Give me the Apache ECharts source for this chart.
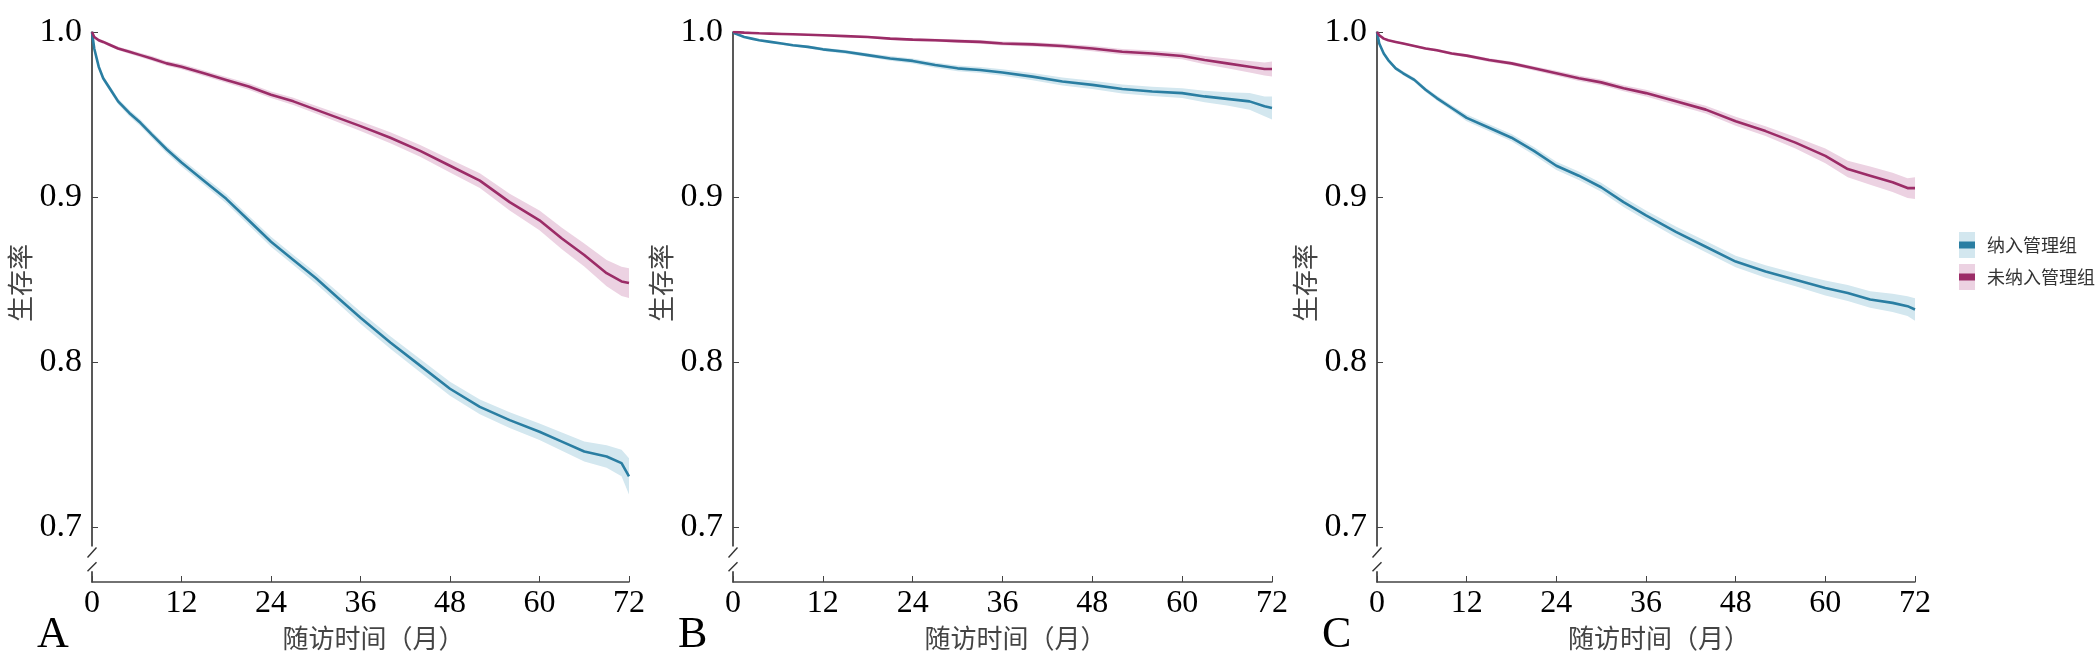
<!DOCTYPE html>
<html>
<head>
<meta charset="utf-8">
<script src="https://cdn.jsdelivr.net/npm/echarts@6/dist/echarts.min.js"></script>
<style>
  html, body { margin: 0; padding: 0; background: #fff; }
  #main { width: 2100px; height: 661px; }
</style>
</head>
<body>
<div id="main"></div>
<script>
// 随访月份（三个图共用）
var months = [0, 0.3, 0.9, 1.5, 2.5, 3.5, 5, 6.5, 8, 10, 12, 15, 18, 21, 24, 27, 30, 33, 36, 40, 44, 48, 52, 56, 60, 63, 66, 69, 71, 72];

// 图A
var aInc = [1.000, 0.990, 0.979, 0.972, 0.965, 0.958, 0.951, 0.945, 0.938, 0.929, 0.921, 0.910, 0.899, 0.886, 0.873, 0.862, 0.851, 0.839, 0.827, 0.812, 0.798, 0.784, 0.773, 0.765, 0.758, 0.752, 0.746, 0.743, 0.739, 0.731];
var aIncCi = [0, 0.001, 0.0015, 0.0015, 0.0017, 0.0018, 0.002, 0.002, 0.002, 0.0022, 0.0024, 0.0025, 0.0027, 0.0028, 0.003, 0.003, 0.0032, 0.0034, 0.0036, 0.0038, 0.004, 0.0042, 0.0045, 0.0048, 0.005, 0.0055, 0.006, 0.0068, 0.008, 0.011];
var aNot = [1.000, 0.997, 0.995, 0.994, 0.992, 0.990, 0.988, 0.986, 0.984, 0.981, 0.979, 0.975, 0.971, 0.967, 0.962, 0.958, 0.953, 0.948, 0.943, 0.936, 0.928, 0.919, 0.910, 0.897, 0.886, 0.875, 0.865, 0.854, 0.849, 0.848];
var aNotCi = [0, 0.0008, 0.001, 0.001, 0.001, 0.0011, 0.0012, 0.0013, 0.0014, 0.0015, 0.0016, 0.0017, 0.0018, 0.0019, 0.002, 0.0022, 0.0024, 0.0027, 0.003, 0.0033, 0.0036, 0.004, 0.0045, 0.005, 0.006, 0.0065, 0.007, 0.008, 0.0088, 0.009];

// 图B
var bInc = [1.000, 0.999, 0.998, 0.997, 0.996, 0.995, 0.994, 0.993, 0.992, 0.991, 0.9895, 0.988, 0.986, 0.984, 0.9825, 0.980, 0.978, 0.977, 0.9755, 0.973, 0.970, 0.968, 0.9655, 0.964, 0.963, 0.961, 0.9595, 0.958, 0.955, 0.954];
var bIncCi = [0, 0.0003, 0.0004, 0.0005, 0.0005, 0.0006, 0.0006, 0.0007, 0.0008, 0.0009, 0.001, 0.0011, 0.0012, 0.0014, 0.0015, 0.0016, 0.0017, 0.0018, 0.002, 0.0022, 0.0024, 0.0025, 0.0027, 0.0028, 0.003, 0.0035, 0.004, 0.005, 0.006, 0.007];
var bNot = [1.000, 1.000, 0.9998, 0.9996, 0.9994, 0.9992, 0.999, 0.9988, 0.9986, 0.9983, 0.998, 0.9975, 0.997, 0.996, 0.9954, 0.995, 0.9945, 0.994, 0.993, 0.9925, 0.9915, 0.990, 0.988, 0.987, 0.9855, 0.983, 0.981, 0.979, 0.9776, 0.9776];
var bNotCi = [0, 0.0002, 0.0003, 0.0003, 0.0003, 0.0004, 0.0004, 0.0004, 0.0005, 0.0005, 0.0006, 0.0006, 0.0007, 0.0007, 0.0008, 0.0009, 0.001, 0.0011, 0.0012, 0.0013, 0.0014, 0.0016, 0.0017, 0.0018, 0.002, 0.0025, 0.003, 0.0035, 0.004, 0.0045];

// 图C
var cInc = [1.000, 0.993, 0.987, 0.983, 0.978, 0.975, 0.971, 0.965, 0.960, 0.954, 0.948, 0.942, 0.936, 0.928, 0.919, 0.913, 0.906, 0.897, 0.889, 0.879, 0.870, 0.861, 0.855, 0.850, 0.845, 0.842, 0.838, 0.836, 0.834, 0.832];
var cIncCi = [0, 0.0008, 0.001, 0.001, 0.0011, 0.0012, 0.0013, 0.0014, 0.0015, 0.0017, 0.002, 0.0021, 0.0022, 0.0024, 0.0025, 0.0026, 0.0027, 0.0029, 0.003, 0.0032, 0.0034, 0.0035, 0.0038, 0.004, 0.0045, 0.0048, 0.005, 0.0055, 0.006, 0.0068];
var cNot = [1.000, 0.998, 0.996, 0.995, 0.994, 0.993, 0.9915, 0.990, 0.989, 0.987, 0.9857, 0.983, 0.981, 0.978, 0.975, 0.972, 0.9695, 0.966, 0.963, 0.958, 0.953, 0.946, 0.940, 0.933, 0.925, 0.917, 0.913, 0.909, 0.9055, 0.9055];
var cNotCi = [0, 0.0004, 0.0005, 0.0005, 0.0005, 0.0006, 0.0006, 0.0007, 0.0008, 0.0009, 0.001, 0.0011, 0.0012, 0.0013, 0.0015, 0.0016, 0.0017, 0.0018, 0.002, 0.0022, 0.0024, 0.0027, 0.003, 0.0035, 0.0045, 0.005, 0.0055, 0.0058, 0.006, 0.0066];

// 坐标轴刻度
var xTicks = [0, 12, 24, 36, 48, 60, 72];
var yTicks = [0.7, 0.8, 0.9, 1.0];
var yMin = 0.667, yMax = 1.0;
var breakTop = 0.6885, breakBottom = 0.6735;   // 纵轴截断处

var nameInc = '纳入管理组', nameNot = '未纳入管理组';
var panelLetters = ['A', 'B', 'C'];

var colorInc = '#2a7ea2', colorNot = '#9b2c67';
var bandInc = '#d3e7ef', bandNot = '#ecd2e2';

var panels = [
  { inc: aInc, incCi: aIncCi, not: aNot, notCi: aNotCi },
  { inc: bInc, incCi: bIncCi, not: bNot, notCi: bNotCi },
  { inc: cInc, incCi: cIncCi, not: cNot, notCi: cNotCi }
];

var gridLefts = [92, 733, 1377];
var gridWidths = [537, 539, 538];
var gridTop = 32, gridHeight = 550;

var numFont = '"Liberation Serif", "Times New Roman", serif';
var cjkFont = '"Noto Sans CJK SC", sans-serif';

var myChart = echarts.init(document.getElementById('main'));

var grids = [], xAxes = [], yAxes = [], series = [];

// 置信区间带：用 custom 系列画成一个多边形
function bandSeries(i, name, vals, ci, color) {
  var rows = months.map(function (m, k) { return [m, vals[k] - ci[k], vals[k] + ci[k]]; });
  return {
    name: name, type: 'custom', xAxisIndex: i, yAxisIndex: i,
    data: rows, encode: { x: 0, y: [1, 2] },
    itemStyle: { color: color }, silent: true, z: 1,
    renderItem: function (params, api) {
      if (params.dataIndex !== 0) return;
      var pts = [];
      rows.forEach(function (r) { pts.push(api.coord([r[0], r[2]])); });
      for (var k = rows.length - 1; k >= 0; k--) pts.push(api.coord([rows[k][0], rows[k][1]]));
      return { type: 'polygon', shape: { points: pts }, style: { fill: color } };
    }
  };
}

panels.forEach(function (p, i) {
  grids.push({ left: gridLefts[i], top: gridTop, width: gridWidths[i], height: gridHeight, containLabel: false, outerBoundsMode: 'none' });

  xAxes.push({
    type: 'value', gridIndex: i, min: 0, max: 72, interval: 12,
    name: '随访时间（月）', nameLocation: 'middle', nameGap: 40,
    nameTextStyle: { fontFamily: cjkFont, fontSize: 26, color: '#444', padding: [0, 0, 0, 26] },
    axisLine: { show: true, lineStyle: { color: '#444', width: 1.5 } },
    axisTick: { show: true, inside: true, length: 6, lineStyle: { color: '#444' } },
    axisLabel: { fontFamily: numFont, fontSize: 32, color: '#000', margin: 6, customValues: xTicks },
    splitLine: { show: false }
  });

  yAxes.push({
    type: 'value', gridIndex: i, min: yMin, max: yMax,
    axisLine: { show: true, lineStyle: { color: '#222', width: 1.5 } },
    axisTick: { show: true, inside: true, length: 6, customValues: yTicks, lineStyle: { color: '#444' } },
    axisLabel: {
      fontFamily: numFont, fontSize: 34, color: '#000', margin: 10, customValues: yTicks,
      formatter: function (v) { return v.toFixed(1); }
    },
    splitLine: { show: false }
  });

  series.push(bandSeries(i, nameInc + ' 95%CI', p.inc, p.incCi, bandInc));
  series.push(bandSeries(i, nameNot + ' 95%CI', p.not, p.notCi, bandNot));

  [[p.inc, nameInc, colorInc], [p.not, nameNot, colorNot]].forEach(function (g) {
    series.push({
      name: g[1], type: 'line', xAxisIndex: i, yAxisIndex: i,
      data: months.map(function (m, k) { return [m, g[0][k]]; }),
      symbol: 'none', itemStyle: { color: g[2] }, lineStyle: { color: g[2], width: 2.6 }, z: 3
    });
  });
});

var option = {
  animation: false,
  backgroundColor: '#fff',
  grid: grids,
  xAxis: xAxes,
  yAxis: yAxes,
  legend: [
    {
      // 图例底色（置信区间颜色）
      left: 1954, top: 227, orient: 'vertical', icon: 'rect',
      itemWidth: 16, itemHeight: 26, itemGap: 6, selectedMode: false, z: 1,
      textStyle: { fontFamily: cjkFont, fontSize: 18, lineHeight: 26, color: 'rgba(0,0,0,0)', padding: [0, 0, 0, 7] },
      formatter: function (n) { return n.replace(' 95%CI', ''); },
      data: [
        { name: nameInc + ' 95%CI', itemStyle: { color: bandInc } },
        { name: nameNot + ' 95%CI', itemStyle: { color: bandNot } }
      ]
    },
    {
      left: 1954, top: 227, orient: 'vertical', icon: 'rect',
      itemWidth: 16, itemHeight: 7, itemGap: 6, z: 2,
      textStyle: { fontFamily: cjkFont, fontSize: 18, lineHeight: 26, color: '#333', padding: [0, 0, 0, 7] },
      data: [
        { name: nameInc, itemStyle: { color: colorInc } },
        { name: nameNot, itemStyle: { color: colorNot } }
      ]
    }
  ],
  series: series
};

myChart.setOption(option);

// 纵轴截断符号、纵轴标题、分图字母
var gfx = [];
panels.forEach(function (p, i) {
  var t = myChart.convertToPixel({ gridIndex: i }, [0, breakTop]);
  var b = myChart.convertToPixel({ gridIndex: i }, [0, breakBottom]);
  gfx.push({ type: 'rect', shape: { x: t[0] - 3, y: t[1], width: 6, height: b[1] - t[1] }, style: { fill: '#fff' }, z: 100 });
  gfx.push({ type: 'line', shape: { x1: t[0] - 4.5, y1: t[1] + 11, x2: t[0] + 4.5, y2: t[1] + 1 }, style: { stroke: '#333', lineWidth: 1.4 }, z: 101 });
  gfx.push({ type: 'line', shape: { x1: b[0] - 4.5, y1: b[1] - 0, x2: b[0] + 4.5, y2: b[1] - 9 }, style: { stroke: '#333', lineWidth: 1.4 }, z: 101 });

  gfx.push({
    type: 'text', x: gridLefts[i] - 72, y: 283, rotation: Math.PI / 2, z: 100,
    style: { text: '生存率', fontFamily: cjkFont, fontSize: 26, fill: '#444', align: 'center', verticalAlign: 'middle' }
  });
  gfx.push({
    type: 'text', x: gridLefts[i] - 55, y: 635, z: 100,
    style: { text: panelLetters[i], fontFamily: numFont, fontSize: 44, fill: '#000', align: 'left', verticalAlign: 'middle' }
  });
});
myChart.setOption({ graphic: gfx });
</script>
</body>
</html>
